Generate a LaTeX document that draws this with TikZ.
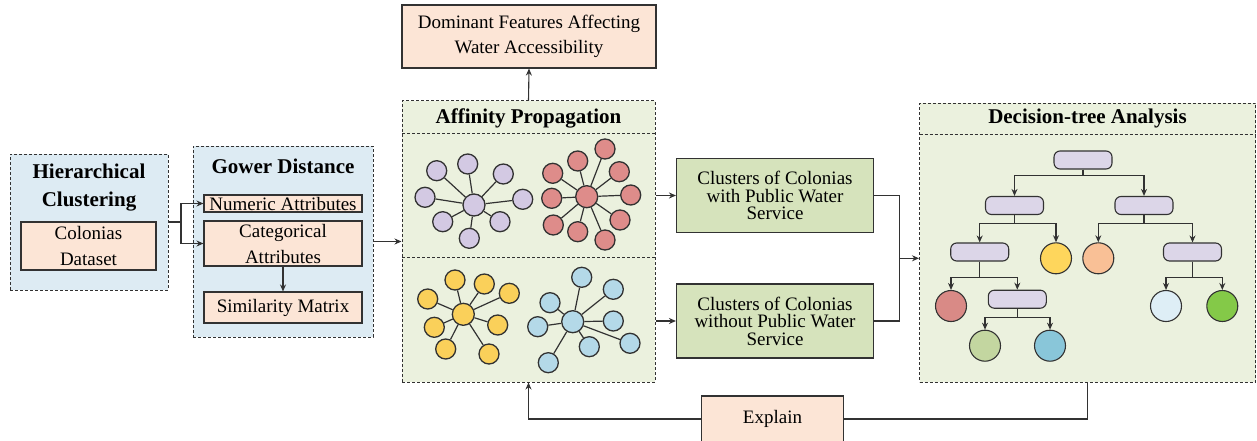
\documentclass[tikz,border=0pt]{standalone}
\usepackage{fontspec}
\setmainfont{Liberation Serif}
\usetikzlibrary{arrows.meta}
\definecolor{boxblue}{RGB}{221,235,243}
\definecolor{peach}{RGB}{252,229,214}
\definecolor{lgreen}{RGB}{235,241,222}
\definecolor{mgreen}{RGB}{214,227,188}
\definecolor{edgec}{RGB}{50,50,50}
\definecolor{lav}{RGB}{211,201,227}
\definecolor{cred}{RGB}{222,140,138}
\definecolor{cyel}{RGB}{250,208,90}
\definecolor{cblu}{RGB}{180,217,232}
\definecolor{tlav}{RGB}{220,214,232}
\definecolor{tred}{RGB}{217,138,134}
\definecolor{tyel}{RGB}{254,214,92}
\definecolor{tora}{RGB}{249,192,150}
\definecolor{tpale}{RGB}{222,238,246}
\definecolor{tgrn}{RGB}{132,201,72}
\definecolor{tsage}{RGB}{195,214,160}
\definecolor{tteal}{RGB}{137,198,217}
\tikzset{
  dashbox/.style={draw=edgec, line width=1pt, dash pattern=on 3pt off 2pt, inner sep=0pt},
  solidbox/.style={draw=edgec, line width=1.1pt, inner sep=0pt, align=center, font=\fontsize{19}{25}\selectfont},
  ttl/.style={font=\fontsize{21}{28}\selectfont\bfseries, align=center, inner sep=0pt},
  arr/.style={draw=edgec, line width=1.1pt, -{Stealth[length=7pt,width=6pt]}},
  ln/.style={draw=edgec, line width=1.1pt},
  circ/.style={circle, draw=edgec, line width=1.3pt, minimum size=20pt, inner sep=0pt},
  hub/.style={circ, minimum size=22pt},
  spoke/.style={draw=edgec, line width=1.2pt},
  trect/.style={draw=edgec, line width=1.1pt, fill=tlav, rounded corners=6pt, minimum width=58pt, minimum height=18pt, inner sep=0pt},
  tcirc/.style={circle, draw=edgec, line width=1.1pt, minimum size=31pt, inner sep=0pt},
}
\begin{document}
\begin{tikzpicture}[x=1pt,y=-1pt]
\useasboundingbox (0,0) rectangle (1257,441);
\fill[white] (0,0) rectangle (1257,441);

% Hierarchical clustering
\node[dashbox, fill=boxblue, minimum width=158pt, minimum height=136pt] (hc) at (89,222) {};
\node[ttl] (hct) at (89,188) {Hierarchical\\Clustering};
\node[solidbox, fill=peach, minimum width=135pt, minimum height=48pt, font=\fontsize{19}{26}\selectfont] (cd) at (88.5,246) {Colonias\\Dataset};

% Gower distance
\node[dashbox, fill=boxblue, minimum width=180pt, minimum height=191pt] (gd) at (283,241.5) {};
\node[ttl] (gdt) at (283,166) {Gower Distance};
\node[solidbox, fill=peach, minimum width=158pt, minimum height=17pt] (num) at (283,203.5) {Numeric Attributes};
\node[solidbox, fill=peach, minimum width=158pt, minimum height=45pt, font=\fontsize{19}{26}\selectfont] (cat) at (283,243.5) {Categorical\\Attributes};
\node[solidbox, fill=peach, minimum width=158pt, minimum height=31pt] (sim) at (283,307.5) {Similarity Matrix};

\coordinate (split) at (181,222);
\draw[ln] (hc.east) -- (split);
\draw[arr] (split) |- (num.west);
\draw[arr] (split) |- (cat.west);
\draw[arr] (cat.south) -- (sim.north);

% Dominant features
\node[solidbox, fill=peach, minimum width=254pt, minimum height=63pt] (dom) at (529,36.5) {Dominant Features Affecting\\Water Accessibility};

% Affinity propagation
\node[dashbox, fill=lgreen, minimum width=253pt, minimum height=281pt] (ap) at (528.5,241.5) {};
\coordinate (apsep1) at (402,133);
\coordinate (apsep2) at (402,257);
\draw[dashbox] (apsep1) -- ++(253,0);
\draw[dashbox] (apsep2) -- ++(253,0);
\node[ttl] (apt) at (528.5,118) {Affinity Propagation};

\draw[arr] (gd.east) -- (gd.east -| ap.west);
\draw[arr] (ap.north) -- (dom.south);

% clusters: purple
\node[hub, fill=lav] (pac) at (474,205) {};
\foreach \px/\py [count=\i] in {436.7/170.7, 467.7/164, 503.3/174, 425/197.3, 522.7/199.3, 442.7/221.7, 500/221.7, 469.3/238.3}{
  \node[circ, fill=lav] (pa\i) at (\px,\py) {};
  \draw[spoke] (pac) -- (pa\i);
}
% red
\node[hub, fill=cred] (rec) at (586.7,196.7) {};
\foreach \px/\py [count=\i] in {605/149, 577.7/161, 619.3/171.7, 552.7/173.3, 630.7/195, 551.7/198.3, 620/220, 553.3/225, 577.7/231.7, 605/240}{
  \node[circ, fill=cred] (re\i) at (\px,\py) {};
  \draw[spoke] (rec) -- (re\i);
}
% yellow
\node[hub, fill=cyel] (yec) at (463.3,314.3) {};
\foreach \px/\py [count=\i] in {455/280, 484.3/284, 509.3/293.3, 427.7/299, 434.3/327.3, 497.7/325, 445.7/349, 489/354}{
  \node[circ, fill=cyel] (ye\i) at (\px,\py) {};
  \draw[spoke] (yec) -- (ye\i);
}
% blue
\node[hub, fill=cblu] (blc) at (572.7,321.7) {};
\foreach \px/\py [count=\i] in {581.7/277.3, 613.3/289.3, 550/302.7, 613.3/321, 537.7/326.7, 630/343.3, 589.3/346.7, 548.3/362.7}{
  \node[circ, fill=cblu] (bl\i) at (\px,\py) {};
  \draw[spoke] (blc) -- (bl\i);
}

% Clusters boxes
\node[solidbox, fill=mgreen, minimum width=197pt, minimum height=74pt, font=\fontsize{19}{17.5}\selectfont] (cw) at (775,195.5) {Clusters of Colonias\\with Public Water\\Service};
\node[solidbox, fill=mgreen, minimum width=197pt, minimum height=74pt, font=\fontsize{19}{17.5}\selectfont] (cwo) at (775,321) {Clusters of Colonias\\without Public Water\\Service};
\draw[arr] (cw.west -| ap.east) -- (cw.west);
\draw[arr] (cwo.west -| ap.east) -- (cwo.west);

% Decision tree box
\node[dashbox, fill=lgreen, minimum width=336pt, minimum height=279pt] (dt) at (1087.5,242.8) {};
\coordinate (dtsep) at (919.5,134.3);
\draw[dashbox] (dtsep) -- ++(336,0);
\node[ttl] (dtt) at (1087.5,118.3) {Decision-tree Analysis};

\coordinate (j) at (899.3,258.3);
\draw[ln] (cw.east) -| (j);
\draw[ln] (cwo.east) -| (j);
\draw[arr] (j) -- (j -| dt.west);

% tree
\node[trect] (r0) at (1083,160) {};
\node[trect] (r1) at (1014.5,205.5) {};
\node[trect] (r2) at (1144,205.5) {};
\node[trect] (r3) at (979.7,252) {};
\node[tcirc, fill=tyel] (cy) at (1056,258.3) {};
\node[tcirc, fill=tora] (co) at (1098.3,258.3) {};
\node[trect] (r4) at (1192.5,252) {};
\node[tcirc, fill=tred] (cr) at (951,306) {};
\node[trect] (r5) at (1017.3,299.2) {};
\node[tcirc, fill=tpale] (clb) at (1166,306) {};
\node[tcirc, fill=tgrn] (cg) at (1222.3,306) {};
\node[tcirc, fill=tsage] (cs) at (985,345.7) {};
\node[tcirc, fill=tteal] (ct) at (1050,345.7) {};

\draw[arr] (r0.south) -- ++(0,6) -| (r1.north);
\draw[arr] (r0.south) -- ++(0,6) -| (r2.north);
\draw[arr] (r1.south) -- ++(0,8) -| (r3.north);
\draw[arr] (r1.south) -- ++(0,8) -| (cy.north);
\draw[arr] (r2.south) -- ++(0,8) -| (co.north);
\draw[arr] (r2.south) -- ++(0,8) -| (r4.north);
\draw[arr] (r3.south) -- ++(0,15.7) -| (cr.north);
\draw[arr] (r3.south) -- ++(0,15.7) -| (r5.north);
\draw[arr] (r4.south) -- ++(0,15.7) -| (clb.north);
\draw[arr] (r4.south) -- ++(0,15.7) -| (cg.north);
\draw[arr] (r5.south) -- ++(0,8.5) -| (cs.north);
\draw[arr] (r5.south) -- ++(0,8.5) -| (ct.north);

% Explain
\node[solidbox, fill=peach, minimum width=141.6pt, minimum height=46pt] (ex) at (772.5,419) {Explain};
\draw[arr] (ex.west) -| (ap.south);
\draw[ln] (ex.east) -| (dt.south);
\end{tikzpicture}
\end{document}
